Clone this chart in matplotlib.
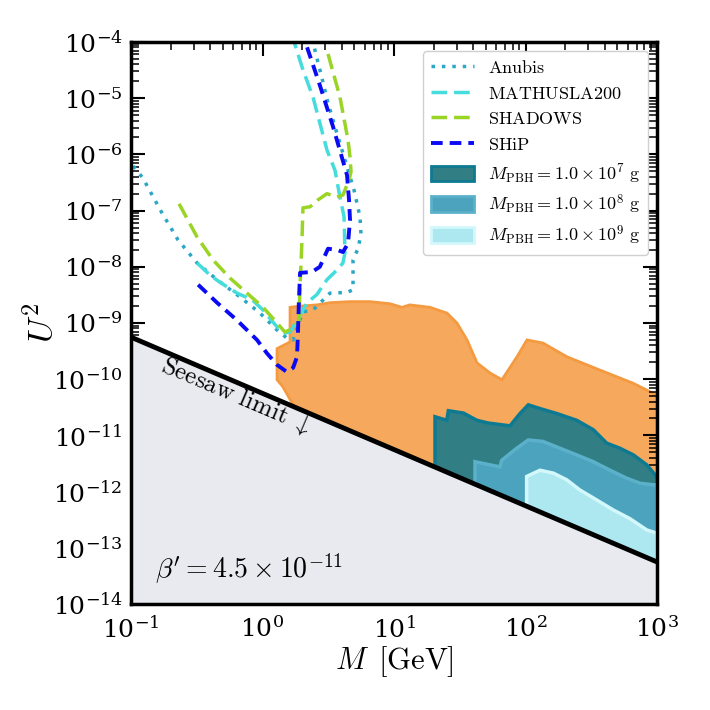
import numpy as np
import matplotlib
matplotlib.use('Agg')
import matplotlib.pyplot as plt
from matplotlib.patches import Patch
from matplotlib.lines import Line2D

plt.rcParams['mathtext.fontset'] = 'cm'
plt.rcParams['font.family'] = 'serif'
plt.rcParams['font.serif'] = ['DejaVu Serif']

# sensitivity curves (M in GeV, U^2)
anubis_m = [0.104, 0.123, 0.172, 0.228, 0.318, 0.451, 0.675, 0.957, 1.29, 1.53, 1.71, 1.86, 2.03, 2.42,
            3.26, 4.39, 4.88, 4.88, 5.32, 5.61, 5.51, 4.97, 4.24, 3.62, 3.15, 2.83, 2.59, 2.42]
anubis_u = [6.2e-7, 3.8e-7, 9.1e-8, 3.0e-8, 1.17e-8, 5.9e-9, 2.9e-9, 1.5e-9, 7.5e-10, 5.4e-10, 5.0e-10,
            9.2e-10, 1.58e-9, 1.7e-9, 3.4e-9, 3.5e-9, 3.9e-9, 1.32e-8, 2.1e-8, 3.8e-8, 7.8e-8, 2.3e-7,
            7.9e-7, 2.7e-6, 8.2e-6, 2.3e-5, 5.2e-5, 1.0e-4]

mathusla_m = [0.318, 0.399, 0.475, 0.640, 0.832, 1.01, 1.29, 1.48, 1.62, 1.83, 1.89, 2.18, 2.59, 3.09,
              3.69, 4.09, 4.24, 4.17, 3.88, 3.56, 3.09, 2.42, 2.03, 1.74]
mathusla_u = [1.17e-8, 7.1e-9, 5.3e-9, 3.4e-9, 2.6e-9, 1.7e-9, 8.5e-10, 6.6e-10, 6.9e-10, 1.12e-9, 1.28e-9,
              2.3e-9, 3.2e-9, 5.9e-9, 8.8e-9, 1.17e-8, 1.8e-8, 7.8e-8, 1.74e-7, 5.2e-7, 1.2e-6, 1.05e-5,
              3.2e-5, 1.0e-4]

shadows_m = [0.232, 0.318, 0.421, 0.566, 0.762, 1.01, 1.29, 1.48, 1.71, 1.89, 1.93, 2.0, 2.03, 2.30, 2.64,
             3.09, 3.69, 4.09, 4.55, 4.71, 4.63, 4.47, 3.88, 3.09]
shadows_u = [1.32e-7, 3.4e-8, 1.32e-8, 6.3e-9, 3.4e-9, 1.9e-9, 1.0e-9, 6.9e-10, 8.1e-10, 1.09e-9, 4.4e-9,
             3.4e-8, 1.12e-7, 1.17e-7, 1.55e-7, 2.0e-7, 1.74e-7, 1.9e-7, 3.5e-7, 4.9e-7, 8.9e-7, 1.8e-6,
             1.05e-5, 7.2e-5]

ship_m = [0.324, 0.451, 0.640, 0.908, 1.08, 1.29, 1.53, 1.71, 1.83, 1.86, 1.89, 1.93, 2.38, 2.73, 3.15,
          3.69, 4.09, 4.47, 4.63, 4.55, 4.39, 3.44, 2.73, 2.18]
ship_u = [4.8e-9, 2.3e-9, 1.12e-9, 5.0e-10, 2.9e-10, 1.8e-10, 1.35e-10, 1.6e-10, 2.5e-10, 6.6e-10, 2.3e-9,
          7.8e-9, 8.1e-9, 1.0e-8, 2.1e-8, 2.0e-8, 1.83e-8, 2.6e-8, 6.8e-8, 1.55e-7, 4.3e-7, 3.1e-6,
          1.7e-5, 8.1e-5]

# excluded region (orange)
orange_m = [1.29, 1.29, 1.62, 1.62, 1.93, 2.59, 3.26, 4.63, 6.56, 9.33, 11.5, 13.2, 18.8, 25.3, 30.1, 35.9,
            42.8, 53.7, 66.2, 86.1, 102.6, 135.8, 207, 369, 656, 1000, 1000, 2.0, 1.71, 1.43]
orange_u = [9.8e-11, 3.5e-10, 4.6e-10, 1.9e-9, 2.0e-9, 2.1e-9, 2.3e-9, 2.4e-9, 2.4e-9, 2.2e-9, 1.9e-9,
            2.1e-9, 1.9e-9, 1.5e-9, 1.0e-9, 5.0e-10, 1.95e-10, 1.29e-10, 9.8e-11, 2.5e-10, 5.0e-10,
            4.4e-10, 2.5e-10, 1.45e-10, 8.5e-11, 5.2e-11, 1e-14, 1e-14, 3.5e-11, 7.3e-11]

# PBH regions
pbh7_m = [20.5, 20.5, 25.2, 25.9, 33.7, 42.6, 52.1, 76.2, 90.8, 105, 129, 173, 245, 328, 414, 523, 661,
          835, 966, 1000, 1000]
pbh7_u = [1e-14, 2.15e-11, 1.86e-11, 2.75e-11, 2.5e-11, 1.86e-11, 1.66e-11, 1.48e-11, 2.45e-11, 3.5e-11,
          3.0e-11, 2.45e-11, 1.86e-11, 1.26e-11, 7.3e-12, 5.9e-12, 4.5e-12, 3.0e-12, 2.0e-12, 1.75e-12,
          1e-14]

pbh8_m = [41.3, 41.3, 64.0, 65.9, 85.7, 105, 136, 183, 245, 328, 440, 589, 743, 938, 1000, 1000]
pbh8_u = [1e-14, 3.4e-12, 2.75e-12, 3.6e-12, 5.9e-12, 8.3e-12, 7.8e-12, 5.9e-12, 4.5e-12, 3.4e-12,
          2.4e-12, 1.73e-12, 1.41e-12, 1.32e-12, 1.32e-12, 1e-14]

pbh9_m = [102, 102, 129, 163, 206, 259, 348, 466, 623, 835, 1000, 1000]
pbh9_u = [1e-14, 1.86e-12, 2.4e-12, 2.13e-12, 1.62e-12, 1.07e-12, 7.1e-13, 4.7e-13, 3.3e-13, 2.08e-13,
          1.82e-13, 1e-14]

pbh_labels = [r'$M_{\rm PBH} = 1.0 \times 10^{7}\ {\rm g}$',
              r'$M_{\rm PBH} = 1.0 \times 10^{8}\ {\rm g}$',
              r'$M_{\rm PBH} = 1.0 \times 10^{9}\ {\rm g}$']

seesaw_norm = 5.6e-11  # U^2 = norm / M
beta_text = r"$\beta' = 4.5 \times 10^{-11}$"

fig = plt.figure(figsize=(7.1, 7.1), dpi=100)
ax = fig.add_axes([131 / 710, 1 - 604 / 710, 526 / 710, 562 / 710])

ax.fill(orange_m, orange_u, facecolor='#f6a95c', edgecolor='#f49a40', lw=2, zorder=1)
ax.fill(pbh7_m, pbh7_u, facecolor='#317f85', edgecolor='#0e7a92', lw=2.5, zorder=2)
ax.fill(pbh8_m, pbh8_u, facecolor='#4ca3be', edgecolor='#5cb1ca', lw=2.5, zorder=3)
ax.fill(pbh9_m, pbh9_u, facecolor='#ade8f0', edgecolor='#d2f8fc', lw=2.5, zorder=4)

ax.plot(anubis_m, anubis_u, color='#2aa6c6', ls=(0, (1, 2)), lw=2.5, zorder=5)
ax.plot(mathusla_m, mathusla_u, color='#45dcdc', ls=(0, (4.5, 2)), lw=2.5, zorder=5)
ax.plot(shadows_m, shadows_u, color='#9ad425', ls=(0, (4.5, 2)), lw=2.5, zorder=5)
ax.plot(ship_m, ship_u, color='#0a0af5', ls=(0, (3, 1.8)), lw=2.8, zorder=5)

mm = np.array([0.1, 1000])
ax.fill_between(mm, seesaw_norm / mm, 1e-14, color='#e8eaef', zorder=6, lw=0)
ax.plot(mm, seesaw_norm / mm, color='black', lw=3.5, zorder=7)

ax.text(0.166, 1.4e-10, r'$\mathrm{Seesaw\ limit}\ \downarrow$', rotation=-23.1, rotation_mode='anchor',
        ha='left', va='baseline', fontsize=18, zorder=8)
ax.text(0.152, 2.9e-14, beta_text, fontsize=20, ha='left', va='baseline', zorder=8)

ax.set_xscale('log')
ax.set_yscale('log')
ax.set_xlim(0.1, 1000)
ax.set_ylim(1e-14, 1e-4)
ax.set_yticks([10.0 ** k for k in range(-14, -3)])
ax.set_xlabel(r'$M\ \,[\mathrm{GeV}]$', fontsize=22, labelpad=1)
ax.set_ylabel(r'$U^2$', fontsize=25)
ax.yaxis.set_label_coords(-0.135, 0.5)

for s in ax.spines.values():
    s.set_linewidth(2.5)
    s.set_zorder(10)
ax.tick_params(which='both', direction='in', top=True, right=True, labelsize=18)
ax.tick_params(which='major', length=10, width=1.5, pad=6)
ax.tick_params(axis='x', which='major', pad=9)
ax.tick_params(which='minor', length=5.5, width=1.1)
ax.yaxis.set_minor_locator(matplotlib.ticker.LogLocator(base=10, subs=np.arange(2, 10), numticks=20))
ax.yaxis.set_minor_formatter(matplotlib.ticker.NullFormatter())

handles = [
    Line2D([], [], color='#2aa6c6', ls=(0, (1, 2)), lw=2.5),
    Line2D([], [], color='#45dcdc', ls=(0, (4.5, 2)), lw=2.5),
    Line2D([], [], color='#9ad425', ls=(0, (4.5, 2)), lw=2.5),
    Line2D([], [], color='#0a0af5', ls=(0, (3, 1.8)), lw=2.8),
    Patch(facecolor='#317f85', edgecolor='#0e7a92', lw=2),
    Patch(facecolor='#4ca3be', edgecolor='#5cb1ca', lw=2),
    Patch(facecolor='#ade8f0', edgecolor='#d2f8fc', lw=2),
]
labels = [r'$\mathrm{Anubis}$', r'$\mathrm{MATHUSLA200}$', r'$\mathrm{SHADOWS}$', r'$\mathrm{SHiP}$'] + pbh_labels
leg = ax.legend(handles, labels, loc='upper right', fontsize=13, framealpha=1, edgecolor='#d0d0d0',
                fancybox=True, borderaxespad=0.5, handlelength=2.4, handleheight=0.95,
                labelspacing=0.42, borderpad=0.45, handletextpad=0.75)
leg.set_zorder(11)

fig.savefig('out.png', dpi=100)
